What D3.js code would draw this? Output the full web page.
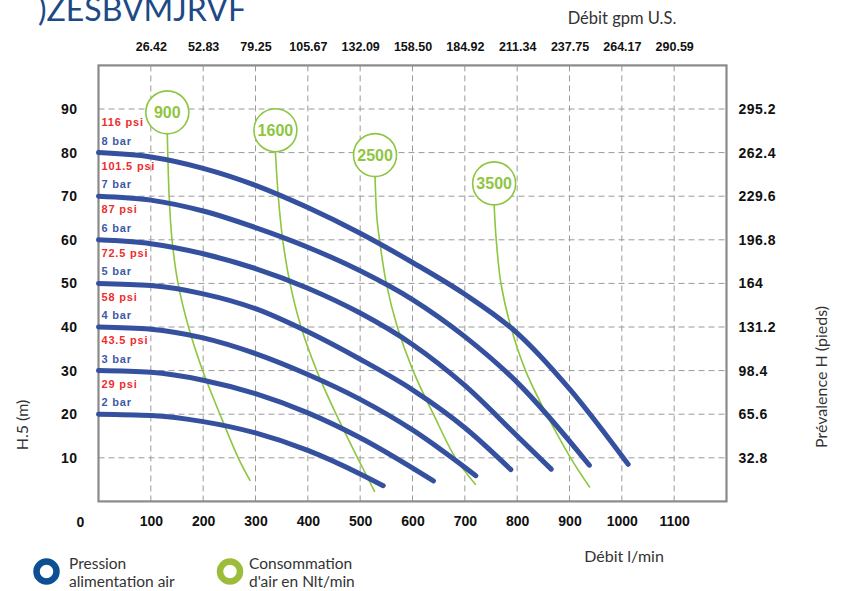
<!DOCTYPE html>
<html><head><meta charset="utf-8">
<script src="https://cdn.jsdelivr.net/npm/d3@7"></script>
<style>
body{margin:0;background:#fff}
svg{display:block}
.tick text{font-family:"Liberation Sans",Arial,sans-serif;font-weight:bold;fill:#111}
</style>
</head><body>
<svg id="c" width="843" height="591"></svg>
<script>
// ---- data ----
const flowTicks = [100,200,300,400,500,600,700,800,900,1000,1100];
const gpmLabels = ["26.42","52.83","79.25","105.67","132.09","158.50","184.92","211.34","237.75","264.17","290.59"];
const headTicks = [10,20,30,40,50,60,70,80,90];
const feetLabels = ["32.8","65.6","98.4","131.2","164","196.8","229.6","262.4","295.2"];
const pressureBar = [2,3,4,5,6,7,8];
const barLabels = ["2 bar","3 bar","4 bar","5 bar","6 bar","7 bar","8 bar"];
const psiLabels = ["29 psi","43.5 psi","58 psi","72.5 psi","87 psi","101.5 psi","116 psi"];

// [flow l/min, head m]
const curve2bar = [[0,20],[100,19.7],[200,18.3],[300,15.7],[400,11.7],[500,6.3],[544,3.6]];
const curve3bar = [[0,30],[100,29.6],[200,27.8],[300,24.7],[400,20.3],[500,14.6],[640,4.7]];
const curve4bar = [[0,40],[100,39.5],[200,37.5],[300,33.9],[400,29.1],[500,23.4],[600,16.4],[721,5.9]];
const curve5bar = [[0,50],[100,49.5],[200,47.6],[300,44.2],[400,38.9],[500,32.6],[600,25.6],[700,16.9],[788,7.3]];
const curve6bar = [[0,60],[100,59.1],[200,56.8],[300,53.4],[400,48.9],[500,43.2],[600,36],[700,26.6],[800,15],[865,7.4]];
const curve7bar = [[0,70],[100,69.1],[200,66.6],[300,62.8],[400,58.3],[500,52.9],[600,46.3],[700,37.8],[800,27.3],[938,8.3]];
const curve8bar = [[0,80],[100,79],[200,76.4],[300,72.5],[400,67.4],[500,61.5],[600,54.8],[700,47.5],[800,38.6],[900,25.8],[1012,8.5]];
const pressureCurves = [curve2bar,curve3bar,curve4bar,curve5bar,curve6bar,curve7bar,curve8bar];

const airValues = ["900","1600","2500","3500"];
const air900  = [[131.5,84.3],[135,70],[140.5,60],[152,50],[172,40],[199,30],[232,20],[267,10],[290,4.7]];
const air1600 = [[338,80.2],[343.5,70],[352,60],[366,50],[387,40],[417,30],[454,20],[495,10],[528,2.2]];
const air2500 = [[528.4,74.5],[532,65],[537,60],[550,50],[571,40],[601,30],[640,20],[682,10],[721,3.8]];
const air3500 = [[756,68],[760,60],[769,50],[788,40],[816,30],[856,20],[902,10],[939,3.2]];
const airCurves = [air900,air1600,air2500,air3500];

// ---- drawing ----
const svg = d3.select("#c");
const x = d3.scaleLinear().domain([0,1200]).range([98.5,726.5]);
const y = d3.scaleLinear().domain([0,100]).range([501.4,65.4]);
const blue = "#34509f", green = "#8dc63f";

// title (cut at top like the reference)
svg.append("text").attr("x",38).attr("y",21)
  .attr("font-family","Lato, 'Open Sans', sans-serif").attr("font-size",32)
  .attr("fill","#1d4a86").text(")ZESBVMJRVF");

// grid
const grid = svg.append("g").attr("stroke","#9a9a9a").attr("stroke-width",1).attr("stroke-dasharray","6,4");
grid.selectAll("line.h").data(headTicks).join("line").attr("class","h")
  .attr("x1",x(0)).attr("x2",x(1200)).attr("y1",d=>y(d)).attr("y2",d=>y(d));
grid.selectAll("line.v").data(flowTicks).join("line").attr("class","v")
  .attr("x1",d=>x(d)).attr("x2",d=>x(d)).attr("y1",y(100)).attr("y2",y(0));

// frame
svg.append("rect").attr("x",x(0)).attr("y",y(100)).attr("width",x(1200)-x(0)).attr("height",y(0)-y(100))
  .attr("fill","none").attr("stroke","#8a8a8a").attr("stroke-width",2.2);

// axes
const ax = (g)=>{g.select(".domain").remove();};
svg.append("g").attr("transform",`translate(0,${y(0)})`)
  .call(d3.axisBottom(x).tickValues(flowTicks).tickSize(0).tickPadding(15).tickFormat(d3.format("d")))
  .call(ax).selectAll("text").attr("font-size",14);
svg.append("text").attr("x",x(0)-18).attr("y",y(0)+26)
  .attr("text-anchor","middle").attr("font-family","Liberation Sans,Arial,sans-serif")
  .attr("font-weight","bold").attr("font-size",14).attr("fill","#111").text("0");
svg.append("g").attr("transform",`translate(0,${y(100)})`)
  .call(d3.axisTop(x).tickValues(flowTicks).tickSize(0).tickPadding(14).tickFormat((d,i)=>gpmLabels[i]))
  .call(ax).selectAll("text").attr("font-size",12.5);
svg.append("g").attr("transform",`translate(${x(0)},0)`)
  .call(d3.axisLeft(y).tickValues(headTicks).tickSize(0).tickPadding(21))
  .call(ax).selectAll("text").attr("font-size",14).attr("letter-spacing","0.5px");
svg.append("g").attr("transform",`translate(${x(1200)},0)`)
  .call(d3.axisRight(y).tickValues(headTicks).tickSize(0).tickPadding(12).tickFormat((d,i)=>feetLabels[i]))
  .call(ax).selectAll("text").attr("font-size",14).attr("letter-spacing","0.5px");

// axis titles
const lab = "Lato, 'Open Sans', sans-serif";
svg.append("text").attr("x",622).attr("y",24).attr("text-anchor","middle")
  .attr("font-family",lab).attr("font-size",16.5).attr("fill","#333").text("Débit gpm U.S.");
svg.append("text").attr("x",624).attr("y",562).attr("text-anchor","middle")
  .attr("font-family",lab).attr("font-size",16).attr("fill","#333").text("Débit l/min");
svg.append("text").attr("transform","translate(28,425) rotate(-90)").attr("text-anchor","middle")
  .attr("font-family",lab).attr("font-size",16).attr("fill","#333").text("H.5 (m)");
svg.append("text").attr("transform","translate(827,377) rotate(-90)").attr("text-anchor","middle")
  .attr("font-family",lab).attr("font-size",16).attr("fill","#333").text("Prévalence H (pieds)");

// air consumption lines
const airLine = d3.line().x(d=>x(d[0])).y(d=>y(d[1])).curve(d3.curveCatmullRom);
svg.append("g").selectAll("path").data(airCurves).join("path")
  .attr("d",airLine).attr("fill","none").attr("stroke",green).attr("stroke-width",1.6);

// pressure curves
const pLine = d3.line().x(d=>x(d[0])).y(d=>y(d[1])).curve(d3.curveMonotoneX);
svg.append("g").selectAll("path").data(pressureCurves).join("path")
  .attr("d",pLine).attr("fill","none").attr("stroke",blue).attr("stroke-width",5)
  .attr("stroke-linecap","round").attr("stroke-linejoin","round");

// air bubbles
const R = 21.5;
const bub = svg.append("g").selectAll("g").data(airCurves).join("g")
  .attr("transform",d=>`translate(${x(d[0][0])},${y(d[0][1])-R})`);
bub.append("circle").attr("r",R).attr("fill","#fff").attr("stroke",green).attr("stroke-width",1.6);
bub.append("text").attr("text-anchor","middle").attr("dy","0.36em")
  .attr("font-family","Liberation Sans,Arial,sans-serif").attr("font-weight","bold")
  .attr("font-size",16).attr("fill",green).text((d,i)=>airValues[i]);

// pressure labels
const pl = svg.append("g").attr("font-family","Liberation Sans,Arial,sans-serif")
  .attr("font-weight","bold").attr("font-size",11).attr("letter-spacing","0.8px");
pl.selectAll("text.b").data(pressureBar).join("text").attr("class","b")
  .attr("x",x(0)+3).attr("y",d=>y(d*10)-8).attr("fill","#3d5aa8").text((d,i)=>barLabels[i]);
pl.selectAll("text.p").data(pressureBar).join("text").attr("class","p")
  .attr("x",x(0)+3).attr("y",d=>y(d*10)-26.5).attr("fill","#ee2d2d").text((d,i)=>psiLabels[i]);

// legend
const lg = svg.append("g").attr("font-family",lab).attr("font-size",15.5).attr("fill","#333");
lg.append("circle").attr("cx",46.5).attr("cy",571.5).attr("r",10).attr("fill","none").attr("stroke","#0d4f93").attr("stroke-width",6.5);
lg.append("text").attr("x",69).attr("y",569).text("Pression");
lg.append("text").attr("x",69).attr("y",587).text("alimentation air");
lg.append("circle").attr("cx",230).attr("cy",571.5).attr("r",10).attr("fill","none").attr("stroke","#9dbd3a").attr("stroke-width",6.5);
lg.append("text").attr("x",249).attr("y",569).text("Consommation");
lg.append("text").attr("x",249).attr("y",587).text("d'air en Nlt/min");
</script>
</body></html>
